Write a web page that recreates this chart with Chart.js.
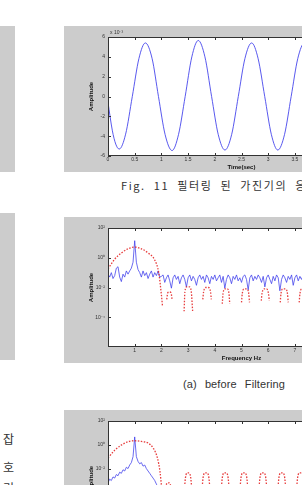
<!DOCTYPE html>
<html>
<head>
<meta charset="utf-8">
<script src="https://cdn.jsdelivr.net/npm/chart.js@4.4.1/dist/chart.umd.min.js"></script>
<style>
  html, body { margin: 0; padding: 0; width: 302px; height: 485px; overflow: hidden; background: #fff; }
  .gray { position: absolute; background: #cccccc; }
  .panel { position: absolute; left: 64px; width: 320px; height: 146px; background: #cccccc; }
  .panel canvas { position: absolute; left: 0; top: 0; }
  .cap { position: absolute; white-space: nowrap; font-family: "Noto Sans CJK KR", "Liberation Sans", sans-serif; font-size: 11px; color: #333; }
  .note { position: absolute; font-family: "Liberation Sans", sans-serif; font-size: 5px; color: #333; }
  .side { position: absolute; left: 3px; font-family: "Noto Sans CJK KR", sans-serif; font-size: 12px; color: #333; line-height: 1; }
</style>
</head>
<body>
<div class="gray" style="left:0;top:26px;width:15px;height:146px"></div>
<div class="gray" style="left:0;top:213px;width:15px;height:147px"></div>

<div class="panel" style="top:26px"><canvas id="timeChart" width="320" height="146"></canvas></div>
<div class="note" style="left:110px;top:29px">x 10⁻³</div>
<div class="cap" style="left:121px;top:177px;letter-spacing:1.6px;word-spacing:4px">Fig. 11 필터링 된 가진기의 응답 신호</div>

<div class="panel" style="top:217px"><canvas id="beforeChart" width="320" height="146"></canvas></div>
<div class="cap" style="left:183px;top:378px;font-family:'Liberation Sans',sans-serif;letter-spacing:0.1px;word-spacing:5px">(a) before Filtering</div>

<div class="panel" style="top:410px"><canvas id="afterChart" width="320" height="146"></canvas></div>

<div class="side" style="top:433px">잡</div>
<div class="side" style="top:461px">호</div>
<div class="side" style="top:482px">리</div>

<script>
// ---- filtered shaker response (x 10^-3) ----
const timeSec = [0, 0.08, 0.145, 0.21, 0.33, 0.455, 0.58, 0.70, 0.825, 0.945, 1.07, 1.20, 1.32, 1.445, 1.57, 1.69, 1.815, 1.94,
  2.065, 2.19, 2.315, 2.44, 2.565, 2.69, 2.81, 2.935, 3.06, 3.18, 3.305, 3.43, 3.555, 3.68, 3.80, 3.925, 4.05, 4.17, 4.30, 4.42, 4.55, 4.67, 4.79, 4.92, 5.0]
const filteredAmp = [-0.6, -3.4, -4.8, -5.3, -3.8, 0, 3.85, 5.4, 3.85, 0, -3.85, -5.45, -3.85, 0, 4.0, 5.65, 4.0, 0,
  -3.85, -5.4, -3.85, 0, 3.85, 5.4, 3.85, 0, -3.85, -5.4, -3.85, 0, 3.85, 5.4, 3.85, 0, -3.85, -5.4, -3.85, 0, 3.85, 5.4, 3.85, 0, -2.4]
const timeTicks = { min: 0, max: 5, step: 0.5 }
const ampTicks = { min: -6, max: 6, step: 2 }

// ---- spectra, frequency bins every 1/16 Hz ----
const binStep = 0.0625
const blueBeforeAmp = [0.079, 0.05, 0.1, 0.04, 0.063, 0.2, 0.25, 0.05, 0.025, 0.079, 0.05, 0.13, 0.079, 0.13, 0.2, 0.5,
  14, 0.5, 0.16, 0.1, 0.05, 0.13, 0.063, 0.1, 0.04, 0.079, 0.13, 0.05, 0.1, 0.063, 0.13, 0.05,
  0.056, 0.07, 0.022, 0.045, 0.07, 0.028, 0.009, 0.045, 0.07, 0.035, 0.056, 0.018, 0.045, 0.07, 0.035, 0.011,
  0.045, 0.07, 0.028, 0.056, 0.035, 0.014, 0.045, 0.07, 0.035, 0.056, 0.022, 0.07, 0.045, 0.018, 0.056, 0.035,
  0.07, 0.028, 0.045, 0.07, 0.022, 0.056, 0.009, 0.035, 0.07, 0.045, 0.018, 0.056, 0.035, 0.07, 0.028, 0.045,
  0.022, 0.056, 0.07, 0.035, 0.007, 0.045, 0.07, 0.028, 0.056, 0.035, 0.07, 0.045, 0.022, 0.056, 0.011, 0.045,
  0.07, 0.035, 0.018, 0.056, 0.028, 0.07, 0.045, 0.006, 0.035, 0.07, 0.045, 0.022, 0.056, 0.035, 0.07, 0.014,
  0.045, 0.07, 0.028, 0.056, 0.035, 0.07, 0.022, 0.045, 0.056]
const redBeforeFreq = [0, 0.25, 0.5, 0.75, 1.0, 1.25, 1.5, 1.75, 1.9, 2.0, 2.04, 2.1,
  2.2, 2.24, 2.3, 2.36, 2.4, 2.6,
  2.85, 2.88, 2.95, 3.05, 3.12, 3.17, 3.3,
  3.55, 3.58, 3.66, 3.76, 3.84, 3.87, 4.0,
  4.28, 4.31, 4.38, 4.47, 4.53, 4.56, 4.7,
  5.0, 5.03, 5.1, 5.2, 5.27, 5.3, 5.5,
  5.74, 5.77, 5.84, 5.94, 6.01, 6.04, 6.2,
  6.45, 6.48, 6.55, 6.65, 6.72, 6.75, 6.9,
  7.16, 7.19, 7.26, 7.36, 7.43, 7.46]
const redBeforeAmp = [0.18, 0.8, 2.1, 4.0, 5.2, 4.0, 2.1, 0.7, 0.1, 0.0032, 0.0006, null,
  0.0016, 0.0045, 0.005, 0.0045, 0.0016, null,
  0.00025, 0.005, 0.011, 0.011, 0.005, 0.00025, null,
  0.0016, 0.005, 0.01, 0.01, 0.005, 0.0016, null,
  0.0008, 0.004, 0.008, 0.008, 0.004, 0.0008, null,
  0.001, 0.004, 0.008, 0.008, 0.004, 0.001, null,
  0.0013, 0.004, 0.008, 0.008, 0.004, 0.0013, null,
  0.001, 0.004, 0.008, 0.008, 0.004, 0.001, null,
  0.001, 0.004, 0.008, 0.008, 0.004, 0.001]

const blueAfterAmp = [0.00063, 0.0013, 0.001, 0.002, 0.0016, 0.0032, 0.0025, 0.005, 0.004, 0.008, 0.0063, 0.013, 0.01, 0.02, 0.032, 0.1,
  4.6, 0.1, 0.04, 0.025, 0.032, 0.016, 0.02, 0.01, 0.0063, 0.004, 0.0025, 0.0016, 0.001, 0.0005, 0.00025, 0.000126, 0.000063]
const redAfterFreq = [0, 0.25, 0.5, 0.75, 1.0, 1.25, 1.5, 1.7, 1.85, 1.95, 2.0, 2.08,
  2.15, 2.22, 2.3, 2.37, 2.6,
  2.86, 2.9, 2.96, 3.04, 3.1, 3.14, 3.3,
  3.52, 3.56, 3.62, 3.72, 3.78, 3.82, 4.0,
  4.24, 4.28, 4.34, 4.44, 4.5, 4.54, 4.7,
  4.94, 4.98, 5.04, 5.14, 5.2, 5.24, 5.4,
  5.65, 5.69, 5.75, 5.85, 5.91, 5.95, 6.1,
  6.36, 6.4, 6.46, 6.56, 6.62, 6.66, 6.8,
  7.06, 7.1, 7.16, 7.26, 7.32, 7.36]
const redAfterAmp = [0.078, 0.35, 0.95, 1.8, 2.2, 1.9, 1.4, 0.5, 0.079, 0.005, 0.0004, null,
  0.00025, 0.00063, 0.00063, 0.00025, null,
  0.00016, 0.0016, 0.0043, 0.0043, 0.0016, 0.00016, null,
  0.00016, 0.0016, 0.0043, 0.0043, 0.0016, 0.00016, null,
  0.00016, 0.0016, 0.0043, 0.0043, 0.0016, 0.00016, null,
  0.00016, 0.0016, 0.0043, 0.0043, 0.0016, 0.00016, null,
  0.00016, 0.0016, 0.0043, 0.0043, 0.0016, 0.00016, null,
  0.00016, 0.0016, 0.0043, 0.0043, 0.0016, 0.00016, null,
  0.00016, 0.0016, 0.0043, 0.0043, 0.0016, 0.00016]

const beforeLogTicks = [100, 1, 0.01, 0.0001]
const afterLogTicks = [100, 1, 0.01, 0.0001, 0.000001]
const logTickLabels = { 100: "10²", 1: "10⁰", 0.01: "10⁻²", 0.0001: "10⁻⁴", 0.000001: "10⁻⁶" }

const lineBlue = "rgba(60, 60, 235, 0.85)"
const lineRed = "rgba(228, 40, 40, 0.9)"
const tickFont = { family: "Liberation Sans", size: 5 }
const titleFont = { family: "Liberation Sans", size: 6, weight: "bold" }

// white axes box, full frame and inward ticks like the MATLAB figure
const matlabAxes = {
  id: "matlabAxes",
  beforeDraw(chart) {
    const { ctx, chartArea: a } = chart
    ctx.save()
    ctx.fillStyle = "#fff"
    ctx.fillRect(a.left, a.top, a.right - a.left, a.bottom - a.top)
    ctx.restore()
  },
  afterDatasetsDraw(chart) {
    const { ctx, chartArea: a, scales } = chart
    ctx.save()
    ctx.strokeStyle = "#333"
    ctx.lineWidth = 1
    ctx.strokeRect(a.left + 0.5, a.top + 0.5, a.right - a.left - 1, a.bottom - a.top - 1)
    ctx.beginPath()
    scales.x.ticks.forEach((t) => {
      const px = Math.round(scales.x.getPixelForValue(t.value)) + 0.5
      ctx.moveTo(px, a.bottom); ctx.lineTo(px, a.bottom - 3)
      ctx.moveTo(px, a.top); ctx.lineTo(px, a.top + 3)
    })
    scales.y.ticks.forEach((t) => {
      const py = Math.round(scales.y.getPixelForValue(t.value)) + 0.5
      ctx.moveTo(a.left, py); ctx.lineTo(a.left + 3, py)
      ctx.moveTo(a.right, py); ctx.lineTo(a.right - 3, py)
    })
    ctx.stroke()
    ctx.restore()
  },
}

function xAxis(opts) {
  return {
    type: "linear",
    min: opts.min,
    max: opts.max,
    grid: { display: false, drawTicks: false },
    border: { display: false },
    ticks: { stepSize: opts.step, font: tickFont, color: "#333", padding: 1, maxRotation: 0, autoSkip: false,
      callback: opts.callback },
    title: { display: true, text: opts.title, font: titleFont, color: "#111", padding: { top: 0, bottom: 1.5 } },
    afterFit: (s) => { s.height = 16 },
  }
}

function yAxis(extra) {
  return Object.assign({
    grid: { display: false, drawTicks: false },
    border: { display: false },
    title: { display: true, text: "Amplitude", font: titleFont, color: "#111", padding: { top: 23.4, bottom: 0 } },
    afterFit: (s) => { s.width = 44 },
  }, extra)
}

const baseOptions = {
  responsive: false,
  animation: false,
  devicePixelRatio: 1,
  layout: { padding: { top: 11, right: 9, bottom: 0, left: 0 } },
  plugins: { legend: { display: false }, tooltip: { enabled: false } },
  elements: { point: { radius: 0 } },
}

function points(xs, ys) {
  return ys.map((y, i) => ({ x: xs[i], y: y }))
}

const binFreq = (arr) => arr.map((_, i) => i * binStep)

new Chart(document.getElementById("timeChart"), {
  type: "line",
  data: {
    datasets: [{
      data: points(timeSec, filteredAmp),
      borderColor: lineBlue,
      borderWidth: 1,
      cubicInterpolationMode: "monotone",
    }],
  },
  options: Object.assign({}, baseOptions, {
    scales: {
      x: xAxis({ min: timeTicks.min, max: timeTicks.max, step: timeTicks.step, title: "Time(sec)" }),
      y: yAxis({
        type: "linear", min: ampTicks.min, max: ampTicks.max,
        ticks: { stepSize: ampTicks.step, font: tickFont, color: "#333", padding: 3 },
      }),
    },
  }),
  plugins: [matlabAxes],
})

function spectrumChart(id, blueAmp, redFreq, redAmp, yMin, logTicks) {
  return new Chart(document.getElementById(id), {
    type: "line",
    data: {
      datasets: [
        {
          data: points(redFreq, redAmp),
          borderColor: lineRed,
          borderWidth: 1.3,
          borderDash: [1.5, 1.5],
          cubicInterpolationMode: "monotone",
          spanGaps: false,
        },
        {
          data: points(binFreq(blueAmp), blueAmp),
          borderColor: lineBlue,
          borderWidth: 0.9,
          tension: 0,
        },
      ],
    },
    options: Object.assign({}, baseOptions, {
      scales: {
        x: xAxis({ min: 0, max: 10, step: 1, title: "Frequency Hz",
          callback: (v) => (v === 0 || v === 10 ? "" : v) }),
        y: yAxis({
          type: "logarithmic", min: yMin, max: 100,
          afterBuildTicks: (s) => { s.ticks = logTicks.map((v) => ({ value: v })) },
          ticks: { font: tickFont, color: "#333", padding: 3, autoSkip: false,
            callback: (v) => logTickLabels[v] || "" },
        }),
      },
    }),
    plugins: [matlabAxes],
  })
}

spectrumChart("beforeChart", blueBeforeAmp, redBeforeFreq, redBeforeAmp, 1e-6, beforeLogTicks)
spectrumChart("afterChart", blueAfterAmp, redAfterFreq, redAfterAmp, 1e-8, afterLogTicks)
</script>
</body>
</html>
